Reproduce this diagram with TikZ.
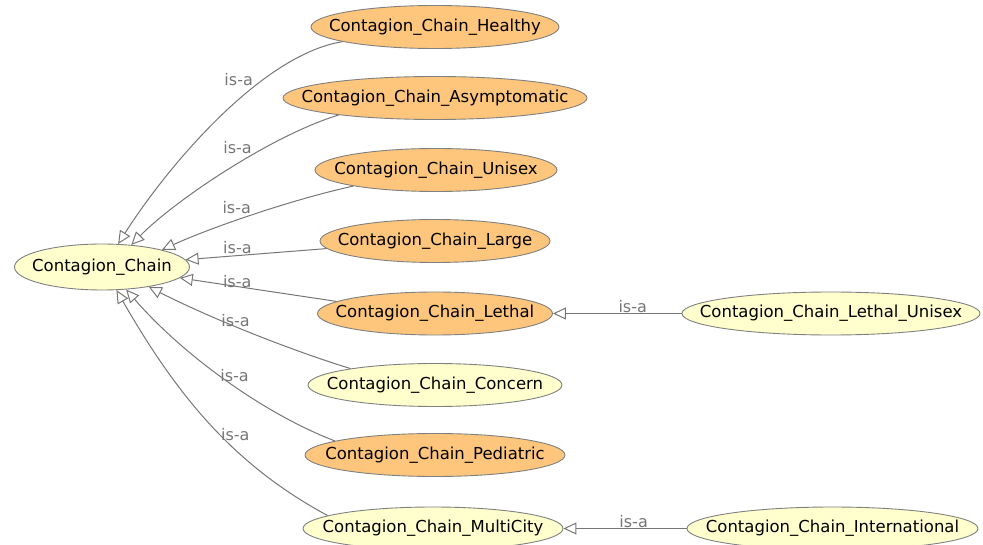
\documentclass[tikz,border=0pt]{standalone}
\usepackage{fontspec}
\setmainfont{DejaVu Sans}
\usetikzlibrary{shapes.geometric}
\usetikzlibrary{arrows.meta}

\definecolor{deforange}{RGB}{253,198,124}
\definecolor{primyellow}{RGB}{255,255,206}
\definecolor{clsborder}{RGB}{128,128,128}
\definecolor{isagray}{RGB}{118,118,118}

\tikzset{
  cls/.style={ellipse, draw=clsborder, line width=0.9pt, inner xsep=-60pt, inner ysep=0pt,
    minimum height=43pt, font=\fontsize{16.5}{18}\selectfont},
  defcls/.style={cls, fill=deforange},
  primcls/.style={cls, fill=primyellow},
  isa/.style={draw=isagray, line width=1pt, -{Triangle[open, length=13pt, width=12pt]}},
  isalbl/.style={text=isagray, font=\fontsize{16}{17}\selectfont, inner sep=0.5pt}
}

\begin{document}
\begin{tikzpicture}[x=1pt, y=-1pt]
\useasboundingbox (0,0) rectangle (983,545);
\node[primcls, minimum width=175pt, minimum height=46pt] (cc) at (102,267) {Contagion\_Chain};
\node[defcls, minimum width=248pt] (healthy) at (435,27) {Contagion\_Chain\_Healthy};
\node[defcls, minimum width=304pt] (asym) at (435,98) {Contagion\_Chain\_Asymptomatic};
\node[defcls, minimum width=242pt] (unisex) at (436,170) {Contagion\_Chain\_Unisex};
\node[defcls, minimum width=230pt] (large) at (435,241) {Contagion\_Chain\_Large};
\node[defcls, minimum width=235pt] (lethal) at (435,313.5) {Contagion\_Chain\_Lethal};
\node[primcls, minimum width=254pt] (concern) at (435,385) {Contagion\_Chain\_Concern};
\node[defcls, minimum width=260pt] (pediatric) at (435,455) {Contagion\_Chain\_Pediatric};
\node[primcls, minimum width=260pt] (multi) at (433,528.5) {Contagion\_Chain\_MultiCity};
\node[primcls, minimum width=298pt] (lunisex) at (831,313.5) {Contagion\_Chain\_Lethal\_Unisex};
\node[primcls, minimum width=291pt] (intl) at (832.5,528.5) {Contagion\_Chain\_International};

\draw[isa] (healthy.189) .. controls (260,55) and (165,170) .. (cc.55)
  node[isalbl, pos=.35, anchor=south east] (isa1) {is-a};
\draw[isa] (asym.190) .. controls (270,136) and (173,202) .. (cc.37)
  node[isalbl, pos=.38, anchor=south east] (isa2) {is-a};
\draw[isa] (unisex.191) .. controls (290,200) and (210,228) .. (cc.16)
  node[isalbl, pos=.5, anchor=south east] (isa3) {is-a};
\draw[isa] (large.184) -- (cc.5)
  node[isalbl, pos=.525, anchor=south east] (isa4) {is-a};
\draw[isa] (lethal.173) -- (cc.-8)
  node[isalbl, pos=.537, anchor=south east] (isa5) {is-a};
\draw[isa] (concern.169) .. controls (290,350) and (210,318) .. (cc.-23)
  node[isalbl, pos=.64, anchor=west] (isa6) {is-a};
\draw[isa] (pediatric.172) .. controls (262,413) and (181,353) .. (cc.-43)
  node[isalbl, pos=.52, anchor=west] (isa7) {is-a};
\draw[isa] (multi.173) .. controls (234,465) and (178,397) .. (cc.-58)
  node[isalbl, pos=.45, anchor=west] (isa8) {is-a};
\draw[isa] (lunisex) -- (lethal) node[isalbl, pos=.38, anchor=south] (isa9) {is-a};
\draw[isa] (intl) -- (multi) node[isalbl, pos=.43, anchor=south] (isa10) {is-a};
\end{tikzpicture}
\end{document}
